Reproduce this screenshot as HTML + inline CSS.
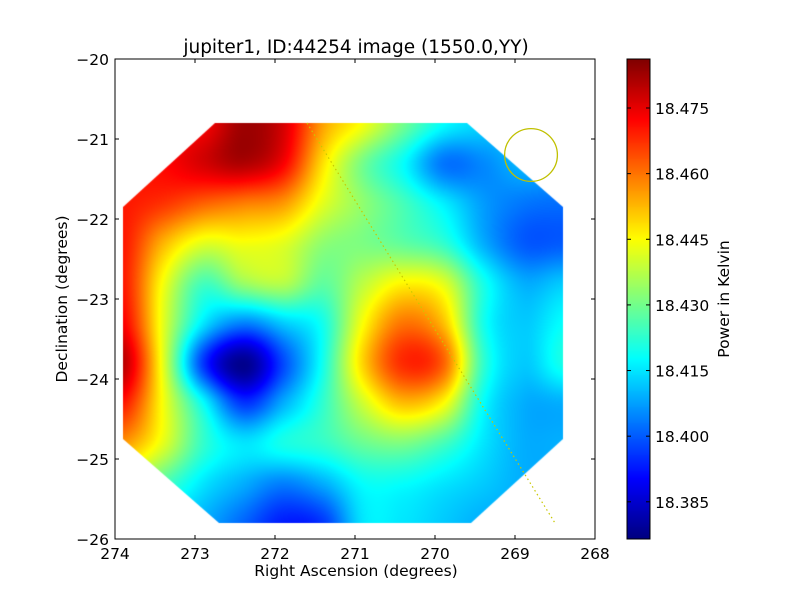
<!DOCTYPE html>
<html><head><meta charset="utf-8"><style>
body{margin:0;background:#fff;}
#wrap{position:relative;width:800px;height:600px;overflow:hidden;font-family:"DejaVu Sans","Liberation Sans",sans-serif;}
canvas,svg{position:absolute;left:0;top:0;}
</style></head><body>
<div id="wrap">
<canvas id="hm" width="800" height="600"></canvas>
<canvas id="cb" width="800" height="600"></canvas>
<svg id="ax" width="800" height="600"></svg>
</div>
<script>
const raCenters=[273.9,273.4,272.9,272.4,271.9,271.4,270.9,270.4,269.9,269.4,268.9,268.4];
const decCenters=[-20.8,-21.3,-21.8,-22.3,-22.8,-23.3,-23.8,-24.3,-24.8,-25.3,-25.8];
const row0=[18.470,18.470,18.473,18.483,18.477,18.455,18.444,18.430,18.418,18.413,18.411,18.409];
const row1=[18.470,18.472,18.477,18.481,18.473,18.448,18.430,18.418,18.403,18.405,18.410,18.409];
const row2=[18.470,18.467,18.462,18.459,18.456,18.442,18.433,18.425,18.416,18.407,18.403,18.402];
const row3=[18.470,18.453,18.442,18.444,18.442,18.433,18.431,18.428,18.423,18.409,18.400,18.400];
const row4=[18.470,18.444,18.425,18.434,18.437,18.428,18.438,18.446,18.442,18.420,18.409,18.412];
const row5=[18.473,18.442,18.415,18.404,18.412,18.420,18.445,18.460,18.452,18.420,18.412,18.418];
const row6=[18.480,18.442,18.396,18.378,18.398,18.420,18.450,18.468,18.462,18.423,18.412,18.420];
const row7=[18.470,18.444,18.418,18.396,18.409,18.423,18.440,18.452,18.445,18.418,18.409,18.409];
const row8=[18.456,18.442,18.423,18.415,18.420,18.423,18.429,18.431,18.425,18.415,18.409,18.409];
const row9=[18.437,18.426,18.415,18.409,18.404,18.409,18.418,18.418,18.415,18.412,18.409,18.409];
const row10=[18.420,18.415,18.409,18.401,18.393,18.396,18.415,18.415,18.412,18.409,18.409,18.409];
const grid=[row0,row1,row2,row3,row4,row5,row6,row7,row8,row9,row10];
const vmin=18.3765, vmax=18.4862;
const xTicks=[274,273,272,271,270,269,268];
const yTicks=[-20,-21,-22,-23,-24,-25,-26];
const cbTicks=[18.385,18.400,18.415,18.430,18.445,18.460,18.475];
const octagonRA=[272.75,269.6,268.4,268.4,269.55,272.7,273.9,273.9];
const octagonDec=[-20.8,-20.8,-21.85,-24.75,-25.8,-25.8,-24.75,-21.85];
const beamRA=268.8, beamDec=-21.2, beamR=0.33;
const lineRA=[271.6,268.5], lineDec=[-20.8,-25.8];

const L=115,R=595,T=59,B=539;
const sx=ra=>L+(274-ra)/6*(R-L);
const sy=d=>T+(-20-d)/6*(B-T);
const cy=v=>B-(v-vmin)/(vmax-vmin)*(B-T);

function jet(t){t=Math.max(0,Math.min(1,t));
 const r=Math.max(0,Math.min(1,1.5-Math.abs(4*t-3)));
 const g=Math.max(0,Math.min(1,1.5-Math.abs(4*t-2)));
 const b=Math.max(0,Math.min(1,1.5-Math.abs(4*t-1)));
 return [r*255,g*255,b*255];}
function cr(p0,p1,p2,p3,t){return p1+0.5*t*(p2-p0+t*(2*p0-5*p1+4*p2-p3+t*(3*(p1-p2)+p3-p0)));}
function g(i,j){i=Math.max(0,Math.min(grid.length-1,i));j=Math.max(0,Math.min(grid[0].length-1,j));return grid[i][j];}
function sample(fi,fj){const i=Math.floor(fi),j=Math.floor(fj),ti=fi-i,tj=fj-j;const rows=[];
 for(let k=-1;k<3;k++)rows.push(cr(g(i+k,j-1),g(i+k,j),g(i+k,j+1),g(i+k,j+2),tj));
 return cr(rows[0],rows[1],rows[2],rows[3],ti);}

const hc=document.getElementById('hm').getContext('2d');
const x0=sx(raCenters[0]),x1=sx(raCenters[raCenters.length-1]),y0=sy(decCenters[0]),y1=sy(decCenters[decCenters.length-1]);
const img=hc.createImageData(800,600);
for(let y=Math.floor(y0);y<=Math.ceil(y1);y++)for(let x=Math.floor(x0);x<=Math.ceil(x1);x++){
 const fj=(x-x0)/(x1-x0)*(raCenters.length-1),fi=(y-y0)/(y1-y0)*(decCenters.length-1);
 const c=jet((sample(Math.max(0,fi),Math.max(0,fj))-vmin)/(vmax-vmin));const o=(y*800+x)*4;
 img.data[o]=c[0];img.data[o+1]=c[1];img.data[o+2]=c[2];img.data[o+3]=255;}
const tmp=document.createElement('canvas');tmp.width=800;tmp.height=600;tmp.getContext('2d').putImageData(img,0,0);
hc.save();hc.beginPath();octagonRA.forEach((ra,k)=>{k?hc.lineTo(sx(ra),sy(octagonDec[k])):hc.moveTo(sx(ra),sy(octagonDec[k]));});hc.closePath();hc.clip();
hc.drawImage(tmp,0,0);hc.restore();

const cc=document.getElementById('cb').getContext('2d');
for(let y=T;y<B;y++){const c=jet((B-y-0.5)/(B-T));cc.fillStyle=`rgb(${c[0]|0},${c[1]|0},${c[2]|0})`;cc.fillRect(627,y,23,1);}

const svg=document.getElementById('ax');const NS='http://www.w3.org/2000/svg';
function el(t,a,p){const e=document.createElementNS(NS,t);for(const k in a)e.setAttribute(k,a[k]);(p||svg).appendChild(e);return e;}
let e;
e=el('line',{x1:sx(lineRA[0]),y1:sy(lineDec[0]),x2:sx(lineRA[1]),y2:sy(lineDec[1]),stroke:'#c8c800','stroke-width':1.2,'stroke-dasharray':'1.5,3'});


e=el('circle',{cx:sx(beamRA),cy:sy(beamDec),r:beamR*80,fill:'none',stroke:'#c0c000','stroke-width':1.3});


e=el('rect',{x:L,y:T,width:R-L,height:B-T,fill:'none',stroke:'#000','stroke-width':1});


xTicks.forEach(v=>{const x=sx(v);
 el('line',{x1:x,y1:B,x2:x,y2:B-4,stroke:'#000'});el('line',{x1:x,y1:T,x2:x,y2:T+4,stroke:'#000'});
 const t=el('text',{x:x,y:B+20,'text-anchor':'middle','font-size':15.5});t.textContent=v;
 
 });
yTicks.forEach(v=>{const y=sy(v);
 el('line',{x1:L,y1:y,x2:L+4,y2:y,stroke:'#000'});el('line',{x1:R,y1:y,x2:R-4,y2:y,stroke:'#000'});
 const t=el('text',{x:L-6,y:y+6,'text-anchor':'end','font-size':15.5});t.textContent='\u2212'+Math.abs(v);
 
 });
e=el('rect',{x:627,y:T,width:23,height:B-T,fill:'none',stroke:'#000'});


cbTicks.forEach(v=>{const y=cy(v);
 el('line',{x1:650,y1:y,x2:646,y2:y,stroke:'#000'});el('line',{x1:627,y1:y,x2:631,y2:y,stroke:'#000'});
 const t=el('text',{x:655,y:y+6,'font-size':15.5});t.textContent=v.toFixed(3);
 
 });
e=el('text',{x:356,y:53,'text-anchor':'middle','font-size':18.5});e.textContent='jupiter1, ID:44254 image (1550.0,YY)';


e=el('text',{x:356,y:576,'text-anchor':'middle','font-size':15.5});e.textContent='Right Ascension (degrees)';


e=el('text',{x:0,y:0,'text-anchor':'middle','font-size':15.5,transform:'translate(67,299) rotate(-90)'});e.textContent='Declination (degrees)';


e=el('text',{x:0,y:0,'text-anchor':'middle','font-size':15.5,transform:'translate(729,299) rotate(-90)'});e.textContent='Power in Kelvin';


</script>
</body></html>
